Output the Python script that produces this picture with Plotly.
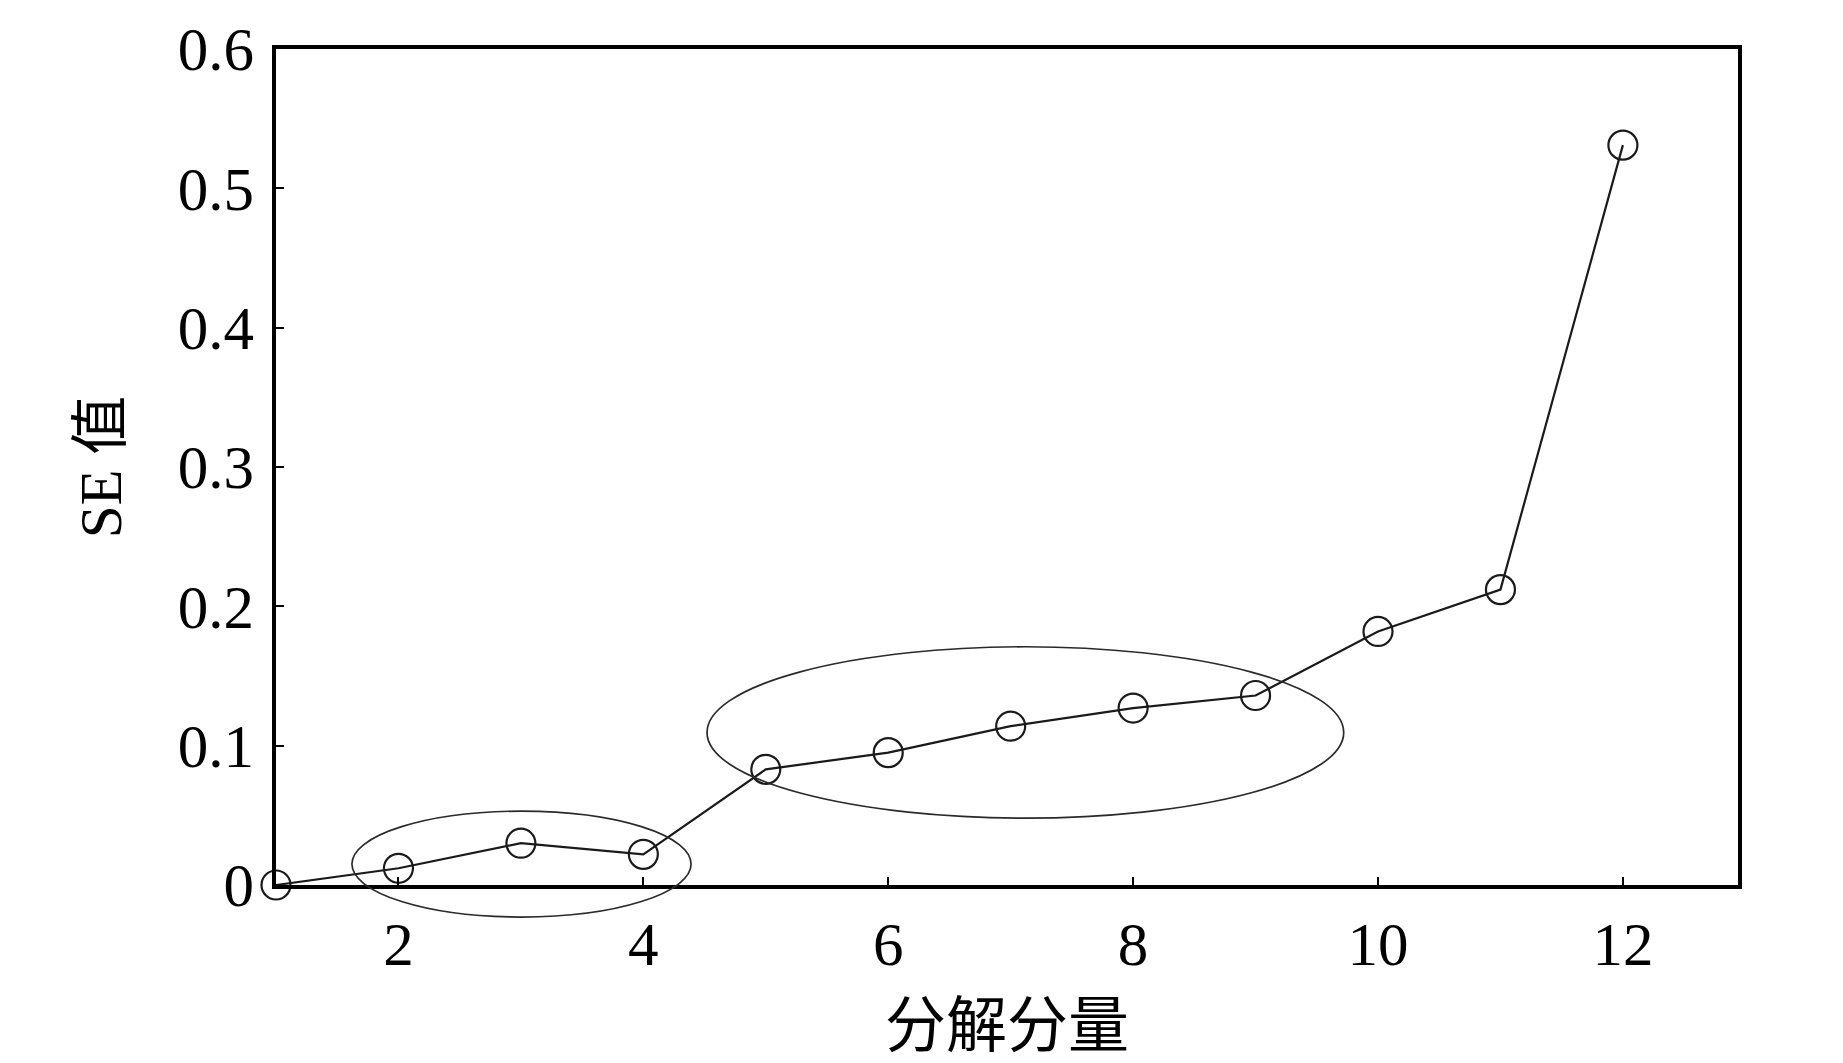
import plotly.graph_objects as go

# Data
components = [1, 2, 3, 4, 5, 6, 7, 8, 9, 10, 11, 12]
se_values = [0.0, 0.012, 0.030, 0.022, 0.083, 0.095, 0.114, 0.127, 0.136, 0.182, 0.212, 0.531]
x_ticks = [2, 4, 6, 8, 10, 12]
y_ticks = [0, 0.1, 0.2, 0.3, 0.4, 0.5, 0.6]
y_tick_text = ["0", "0.1", "0.2", "0.3", "0.4", "0.5", "0.6"]

# highlighted groups (ellipse bounds in data units)
group_x = [[1.62, 4.39], [4.52, 9.72]]
group_y = [[-0.023, 0.053], [0.048, 0.171]]

X_RANGE = [1.0, 12.94]
Y_RANGE = [0.0, 0.6]

FONT = "Liberation Serif, Times New Roman, Noto Sans CJK SC, serif"

fig = go.Figure()
fig.add_trace(go.Scatter(
    x=components, y=se_values, mode="lines+markers",
    line=dict(color="#1a1a1a", width=2.2),
    marker=dict(symbol="circle-open", size=29, color="#1a1a1a", line=dict(width=2.2)),
    cliponaxis=False, showlegend=False,
))


def to_paper_x(v):
    return (v - X_RANGE[0]) / (X_RANGE[1] - X_RANGE[0])


def to_paper_y(v):
    return (v - Y_RANGE[0]) / (Y_RANGE[1] - Y_RANGE[0])


for gx, gy in zip(group_x, group_y):
    fig.add_shape(
        type="circle", xref="paper", yref="paper",
        x0=to_paper_x(gx[0]), x1=to_paper_x(gx[1]),
        y0=to_paper_y(gy[0]), y1=to_paper_y(gy[1]),
        line=dict(color="#2a2a2a", width=1.7),
    )

axis_common = dict(
    showgrid=False, zeroline=False, showline=True, linecolor="black",
    linewidth=3.5, mirror=True, ticks="inside", tickcolor="black",
    tickwidth=2, ticklen=8,
)

fig.update_xaxes(
    range=X_RANGE, tickvals=x_ticks, ticktext=[str(v) for v in x_ticks],
    tickfont=dict(family=FONT, size=61, color="black"),
    ticklabelstandoff=3,
    title=dict(text="分解分量", font=dict(family=FONT, size=61, color="black"), standoff=28),
    **axis_common,
)
fig.update_yaxes(
    range=Y_RANGE, tickvals=y_ticks, ticktext=y_tick_text,
    tickfont=dict(family=FONT, size=61, color="black"),
    ticklabelstandoff=6,
    title=dict(text="SE 值", font=dict(family=FONT, size=59, color="black"), standoff=38),
    **axis_common,
)

fig.update_layout(
    width=1843, height=1063,
    margin=dict(l=268, r=113, t=41, b=186, autoexpand=False),
    paper_bgcolor="white", plot_bgcolor="white",
)

fig.write_html("out.html")
